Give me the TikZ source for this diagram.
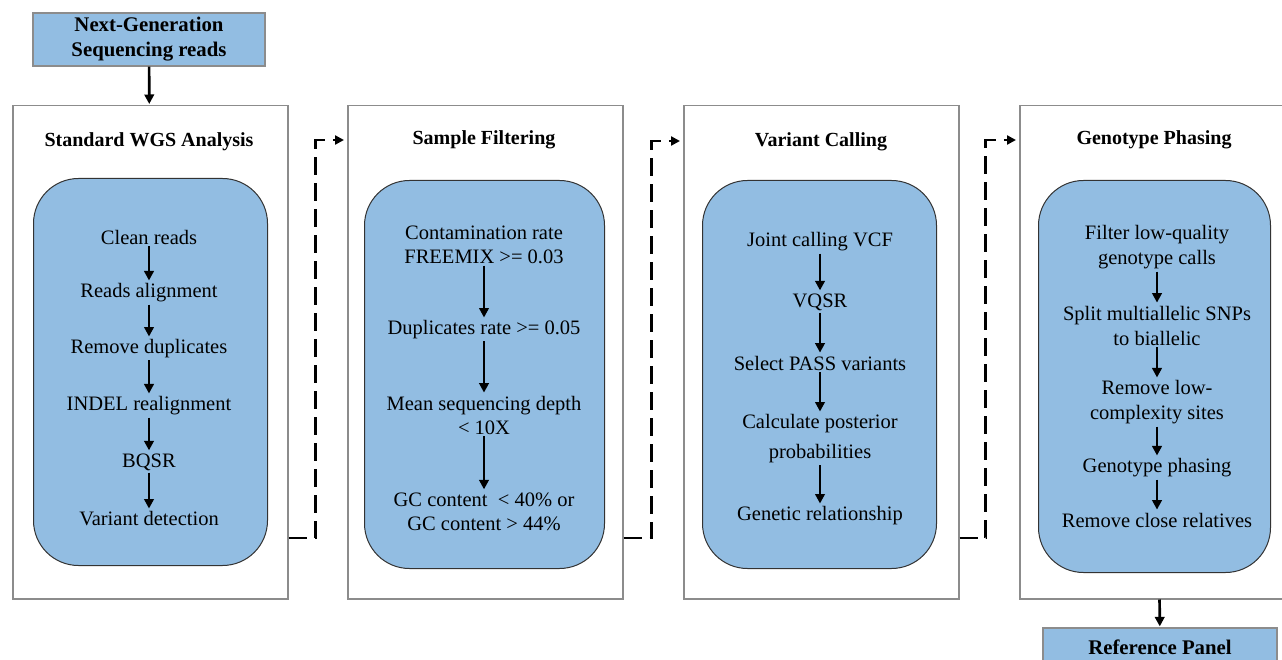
\documentclass[tikz,border=0pt]{standalone}
\usepackage{fontspec}
\setmainfont{Liberation Serif}
\usetikzlibrary{arrows.meta}
\definecolor{boxblue}{RGB}{146,189,226}
\definecolor{panelgray}{RGB}{140,140,140}
\begin{document}
\begin{tikzpicture}[x=1pt,y=-1pt,
  panelbox/.style={draw=panelgray, line width=1.5pt, anchor=north west, minimum width=275pt, minimum height=493pt, inner sep=0pt},
  innerbox/.style={draw=black!80, fill=boxblue, line width=1pt, rounded corners=45pt, anchor=north west, inner sep=0pt},
  hdrbox/.style={draw=panelgray, fill=boxblue, line width=1.2pt, inner sep=0pt, align=center, font=\bfseries\fontsize{20.8}{25}\selectfont},
  ptitle/.style={font=\bfseries\fontsize{20}{24}\selectfont, inner sep=0pt},
  item/.style={font=\fontsize{20.5}{24}\selectfont, align=center, inner sep=2pt},
  flow/.style={-{Triangle[length=9.5pt,width=9.5pt]}, line width=2.7pt, shorten >=1pt},
  dashlink/.style={-{Triangle[length=9pt,width=9pt]}, line width=2.5pt, dash pattern=on 18pt off 8pt, shorten >=3pt}
]
\useasboundingbox (0,0) rectangle (1282,660);
\clip (0,0) rectangle (1282,660);

% top header
\node[hdrbox, minimum width=232pt, minimum height=53pt] (ngs) at (149,39.5) {Next-Generation\\Sequencing reads};

% panels
\node[panelbox] (p1) at (12,105) {};
\node[panelbox] (p2) at (347,105) {};
\node[panelbox] (p3) at (683,105) {};
\node[panelbox] (p4) at (1019,105) {};

\node[ptitle] (t1) at (149,142) {Standard WGS Analysis};
\node[ptitle] (t2) at (484,140) {Sample Filtering};
\node[ptitle] (t3) at (821,142) {Variant Calling};
\node[ptitle] (t4) at (1154,140) {Genotype Phasing};

% inner rounded boxes
\node[innerbox, minimum width=234pt, minimum height=387pt] (i1) at (33,178) {};
\node[innerbox, minimum width=240pt, minimum height=388pt] (i2) at (364,180) {};
\node[innerbox, minimum width=234pt, minimum height=388pt] (i3) at (702,180) {};
\node[innerbox, minimum width=232pt, minimum height=392pt] (i4) at (1038,180) {};

% panel 1 items
\node[item] (a1) at (149,237) {Clean reads};
\node[item] (a2) at (149,293) {Reads alignment};
\node[item] (a3) at (149,349) {Remove duplicates};
\node[item] (a4) at (149,406) {INDEL realignment};
\node[item] (a5) at (149,462) {BQSR};
\node[item] (a6) at (149,519) {Variant detection};
\draw[flow] (a1) -- (a2);
\draw[flow] (a2) -- (a3);
\draw[flow] (a3) -- (a4);
\draw[flow] (a4) -- (a5);
\draw[flow] (a5) -- (a6);

% panel 2 items
\node[item] (b1) at (484,244.5) {Contamination rate\\FREEMIX >= 0.03};
\node[item] (b2) at (484,330) {Duplicates rate >= 0.05};
\node[item] (b3) at (484,415) {Mean sequencing depth\\< 10X};
\node[item] (b4) at (484,511.5) {GC content~~< 40\% or\\GC content > 44\%};
\draw[flow] (b1) -- (b2);
\draw[flow] (b2) -- (b3);
\draw[flow] (b3) -- (b4);

% panel 3 items
\node[item] (c1) at (820,242) {Joint calling VCF};
\node[item] (c2) at (820,302) {VQSR};
\node[item] (c3) at (820,363) {Select PASS variants};
\node[item, font=\fontsize{20.5}{30}\selectfont] (c4) at (820,439) {Calculate posterior\\probabilities};
\node[item] (c5) at (820,516) {Genetic relationship};
\draw[flow] (c1) -- (c2);
\draw[flow] (c2) -- (c3);
\draw[flow] (c3) -- (c4);
\draw[flow] (c4) -- (c5);

% panel 4 items
\node[item, font=\fontsize{20.5}{25}\selectfont] (d1) at (1157,247.5) {Filter low-quality\\genotype calls};
\node[item, font=\fontsize{20.5}{25}\selectfont] (d2) at (1157,325.5) {Split multiallelic SNPs\\to biallelic};
\node[item, font=\fontsize{20.5}{25}\selectfont] (d3) at (1157,402.5) {Remove low-\\complexity sites};
\node[item] (d4) at (1157,468) {Genotype phasing};
\node[item] (d5) at (1157,520) {Remove close relatives};
\draw[flow] (d1) -- (d2);
\draw[flow] (d2) -- (d3);
\draw[flow] (d3) -- (d4);
\draw[flow] (d4) -- (d5);

% reference panel
\node[hdrbox, minimum width=234pt, minimum height=38pt] (ref) at (1160,647) {Reference Panel};

% vertical connectors
\draw[flow] (ngs) -- (p1);
\draw[flow] (p4) -- (ref);

% dashed links
\draw[dashlink] ([yshift=-185.5pt]p1.east) -- ++(27,0) |- ([yshift=-35pt]p2.north west);
\draw[dashlink] ([yshift=-185.5pt]p2.east) -- ++(28,0) |- ([yshift=-36pt]p3.north west);
\draw[dashlink] ([yshift=-185.5pt]p3.east) -- ++(26,0) |- ([yshift=-35pt]p4.north west);
\end{tikzpicture}
\end{document}
